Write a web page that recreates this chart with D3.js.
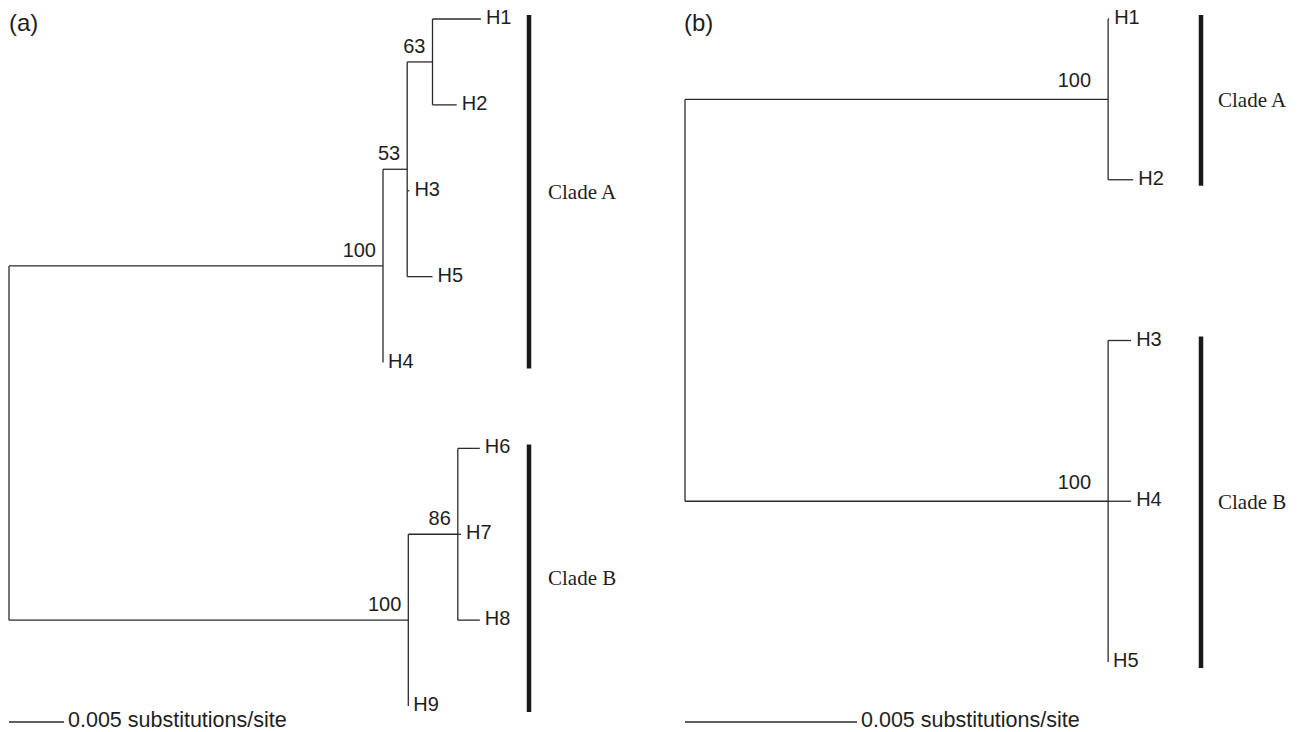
<!DOCTYPE html>
<html>
<head>
<meta charset="utf-8">
<script src="https://cdn.jsdelivr.net/npm/d3@7/dist/d3.min.js"></script>
<style>
  body { margin: 0; background: #fff; }
  svg { display: block; }
  .branch { stroke: #2b2b2b; stroke-width: 1.3; fill: none; }
  .tip, .support, .scale-text, .panel { font-family: "Liberation Sans", Arial, Helvetica, sans-serif; fill: #1e1e1e; }
  .clade { font-family: "Liberation Serif", "Times New Roman", serif; fill: #1e1e1e; }
</style>
</head>
<body>
<div id="chart"></div>
<script>
// tree (a): 9 haplotypes
var aIds     = ["root", "cA", "n53", "n63", "H1", "H2", "H3", "H5", "H4", "cB", "n86", "H6", "H7", "H8", "H9"];
var aParents = ["", "root", "cA", "n53", "n63", "n63", "n53", "n53", "cA", "root", "cB", "n86", "n86", "n86", "cB"];
var aLengths = [0, 0.0340, 0.0022, 0.0023, 0.0044, 0.0022, 0.0002, 0.0023, 0, 0.0363, 0.0045, 0.0020, 0.0003, 0.0020, 0];
var aSupport = ["", "100", "53", "63", "", "", "", "", "", "100", "86", "", "", "", ""];
var aClades  = ["Clade A", "Clade B"];
var aCladeLeaves = [["H1", "H4"], ["H6", "H9"]];

// tree (b): 5 haplotypes
var bIds     = ["root", "cA", "H1", "H2", "cB", "H3", "H4", "H5"];
var bParents = ["", "root", "cA", "cA", "root", "cB", "cB", "cB"];
var bLengths = [0, 0.0123, 0.00003, 0.00073, 0.0123, 0.00067, 0.00067, 0];
var bSupport = ["", "100", "", "", "100", "", "", ""];
var bClades  = ["Clade A", "Clade B"];
var bCladeLeaves = [["H1", "H2"], ["H3", "H5"]];

var scaleValue = 0.005;
var scaleLabel = "0.005 substitutions/site";

var svgWidth = 1298, svgHeight = 732;
var svg = d3.select('#chart').append('svg')
    .attr('width', svgWidth).attr('height', svgHeight);

var panels = [
  { name: "(a)", ids: aIds, parents: aParents, lengths: aLengths, support: aSupport,
    clades: aClades, cladeLeaves: aCladeLeaves,
    x0: 9, scalePx: 55, yTop: 19, yBottom: 706, barX: 529, cladeX: 548,
    supDx: -7, supDy: -9, panelX: 9 },
  { name: "(b)", ids: bIds, parents: bParents, lengths: bLengths, support: bSupport,
    clades: bClades, cladeLeaves: bCladeLeaves,
    x0: 685, scalePx: 172, yTop: 19, yBottom: 662, barX: 1201, cladeX: 1218,
    supDx: -17, supDy: -12, panelX: 684 }
];

function drawTree(p) {
  var rows = p.ids.map(function(id, i) {
    return { id: id, parent: p.parents[i] || null, len: p.lengths[i], sup: p.support[i] };
  });
  var root = d3.stratify().id(function(d) { return d.id; }).parentId(function(d) { return d.parent; })(rows);

  // cumulative distance from root
  root.eachBefore(function(n) {
    n.dist = n.parent ? n.parent.dist + n.data.len : 0;
  });

  var xScale = d3.scaleLinear().domain([0, scaleValue]).range([p.x0, p.x0 + p.scalePx]);
  var leaves = root.leaves();
  var yScale = d3.scalePoint().domain(leaves.map(function(d) { return d.id; })).range([p.yTop, p.yBottom]);

  // y of internal nodes = middle of first and last child
  root.eachAfter(function(n) {
    if (n.children) n.y = (n.children[0].y + n.children[n.children.length - 1].y) / 2;
    else n.y = yScale(n.id);
    n.x = xScale(n.dist);
  });

  var g = svg.append('g');

  // horizontal branches
  g.selectAll('line.h').data(root.descendants().filter(function(n) { return n.parent; }))
    .enter().append('line')
    .attr('class', 'branch')
    .attr('x1', function(n) { return n.parent.x; })
    .attr('x2', function(n) { return n.x; })
    .attr('y1', function(n) { return n.y; })
    .attr('y2', function(n) { return n.y; });

  // vertical connectors
  g.selectAll('line.v').data(root.descendants().filter(function(n) { return n.children; }))
    .enter().append('line')
    .attr('class', 'branch')
    .attr('x1', function(n) { return n.x; })
    .attr('x2', function(n) { return n.x; })
    .attr('y1', function(n) { return n.children[0].y; })
    .attr('y2', function(n) { return n.children[n.children.length - 1].y; });

  // tip labels
  g.selectAll('text.tip').data(leaves).enter().append('text')
    .attr('class', 'tip')
    .attr('x', function(n) { return n.x + 5; })
    .attr('y', function(n) { return n.y; })
    .attr('dy', '0.25em')
    .attr('font-size', 20)
    .text(function(n) { return n.id; });

  // bootstrap support
  g.selectAll('text.support').data(root.descendants().filter(function(n) { return n.data.sup; }))
    .enter().append('text')
    .attr('class', 'support')
    .attr('x', function(n) { return n.x + p.supDx; })
    .attr('y', function(n) { return n.y + p.supDy; })
    .attr('text-anchor', 'end')
    .attr('font-size', 20)
    .text(function(n) { return n.data.sup; });

  // clade bars
  p.clades.forEach(function(c, i) {
    var y1 = yScale(p.cladeLeaves[i][0]) - 4;
    var y2 = yScale(p.cladeLeaves[i][1]) + 6;
    g.append('line')
      .attr('x1', p.barX).attr('x2', p.barX)
      .attr('y1', y1).attr('y2', y2)
      .attr('stroke', '#1a1a1a').attr('stroke-width', 4.5);
    g.append('text')
      .attr('class', 'clade')
      .attr('x', p.cladeX)
      .attr('y', (y1 + y2) / 2)
      .attr('dy', '0.33em')
      .attr('font-size', 21)
      .text(c);
  });

  // scale bar
  g.append('line')
    .attr('class', 'branch')
    .attr('x1', xScale(0)).attr('x2', xScale(scaleValue))
    .attr('y1', 722).attr('y2', 722);
  g.append('text')
    .attr('class', 'scale-text')
    .attr('x', xScale(scaleValue) + 4)
    .attr('y', 727)
    .attr('font-size', 21.5)
    .text(scaleLabel);

  // panel letter
  g.append('text')
    .attr('class', 'panel')
    .attr('x', p.panelX)
    .attr('y', 31)
    .attr('font-size', 24)
    .text(p.name);
}

panels.forEach(drawTree);
</script>
</body>
</html>
